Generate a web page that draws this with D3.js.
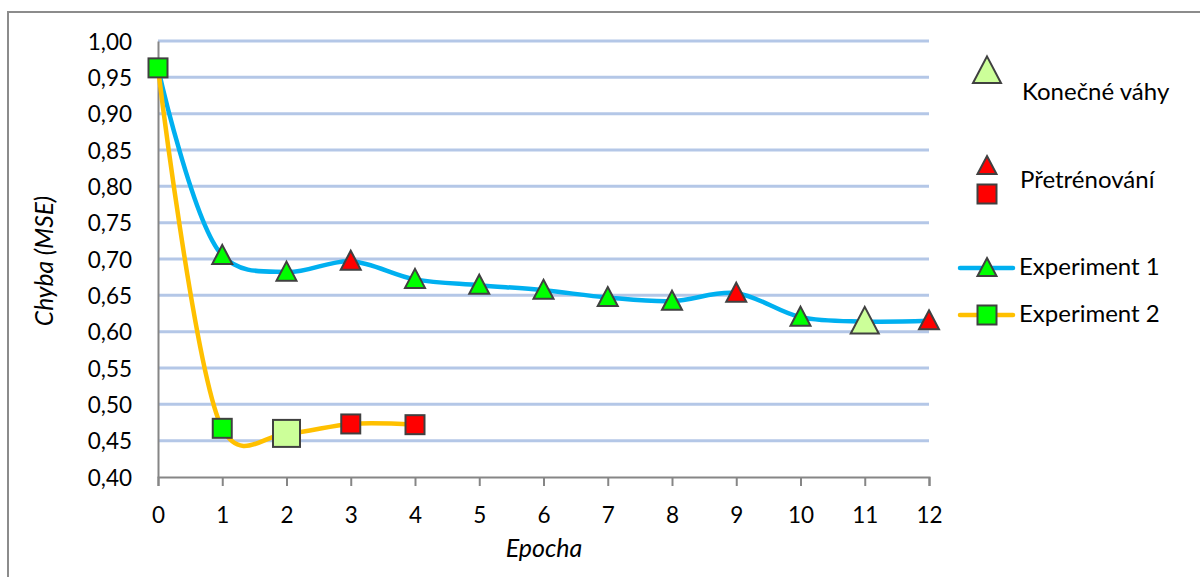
<!DOCTYPE html>
<html><head><meta charset="utf-8">
<script src="https://cdn.jsdelivr.net/npm/d3@7"></script>
<style>body{margin:0;background:#fff}svg{display:block}text{font-family:Lato,"Open Sans",sans-serif;fill:#000}</style>
</head><body>
<svg id="c" width="1200" height="577"></svg>
<script>
const epochs = [0,1,2,3,4,5,6,7,8,9,10,11,12];
const exp1 = [0.963,0.705,0.682,0.697,0.672,0.664,0.657,0.647,0.642,0.653,0.620,0.614,0.615];
const exp2 = [0.963,0.467,0.460,0.473,0.472];
// marker type per point: "n" normal, "f" final weights, "o" overtraining
const exp1Marks = ["n","n","n","o","n","n","n","n","n","o","n","f","o"];
const exp2Marks = ["n","n","f","o","o"];
const yTicks = [0.40,0.45,0.50,0.55,0.60,0.65,0.70,0.75,0.80,0.85,0.90,0.95,1.00];
const xLabel = "Epocha", yLabel = "Chyba (MSE)";
const legendLabels = ["Konečné váhy","Přetrénování","Experiment 1","Experiment 2"];

const svg = d3.select("#c");
const x = d3.scaleLinear().domain([0,12]).range([158,929]);
const y = d3.scaleLinear().domain([0.40,1.00]).range([477,41]);
const fillOf = {n:"#00ff00", f:"#ccff99", o:"#ff0000"};
const stroke = "#404040";

// outer border
svg.append("rect").attr("x",8).attr("y",12).attr("width",1200).attr("height",600)
  .attr("fill","none").attr("stroke","#8c8c8c").attr("stroke-width",2);

// gridlines
svg.append("g").selectAll("line").data(yTicks.filter(d=>d>0.401)).join("line")
  .attr("x1",x(0)).attr("x2",x(12)).attr("y1",d=>y(d)).attr("y2",d=>y(d))
  .attr("stroke","#b4c7e7").attr("stroke-width",3);

// axes
const fmt = d => d3.format(".2f")(d).replace(".",",");
const ya = svg.append("g").attr("transform",`translate(${x(0)},0)`)
  .call(d3.axisLeft(y).tickValues(yTicks).tickFormat(fmt).tickSize(0).tickPadding(26));
ya.select(".domain").attr("stroke","#868686").attr("stroke-width",2);
ya.selectAll("text").attr("font-size",22.5).attr("font-family","Lato").attr("dy","0.36em");
const xa = svg.append("g").attr("transform",`translate(0,${y(0.40)})`)
  .call(d3.axisBottom(x).tickValues(epochs).tickFormat(d3.format("d")).tickSize(9).tickPadding(21));
xa.select(".domain").attr("stroke","#868686").attr("stroke-width",2);
xa.selectAll("line").attr("stroke","#868686").attr("stroke-width",2);
xa.selectAll("text").attr("font-size",22.5).attr("font-family","Lato");

// axis titles
svg.append("text").attr("transform","translate(53,261) rotate(-90)").attr("text-anchor","middle")
  .attr("font-size",24.5).attr("font-style","italic").text(yLabel);
svg.append("text").attr("x",544).attr("y",557).attr("text-anchor","middle")
  .attr("font-size",25).attr("font-style","italic").text(xLabel);

// lines
const line1 = d3.line().x((d,i)=>x(epochs[i])).y(d=>y(d)).curve(d3.curveCatmullRom.alpha(0.4));
const line2 = d3.line().x((d,i)=>x(epochs[i])).y(d=>y(d)).curve(d3.curveCatmullRom.alpha(0.2));
svg.append("path").attr("d",line1(exp1)).attr("fill","none").attr("stroke","#00b0f0").attr("stroke-width",4.5);
svg.append("path").attr("d",line2(exp2)).attr("fill","none").attr("stroke","#ffc000").attr("stroke-width",4.5);

function tri(g,cx,cy,s,fill){
  const h = s*0.95;
  g.append("path").attr("d",`M${cx},${cy-h*0.55}L${cx+s/2},${cy+h*0.45}L${cx-s/2},${cy+h*0.45}Z`)
    .attr("fill",fill).attr("stroke",stroke).attr("stroke-width",2).attr("stroke-linejoin","miter");
}
function sq(g,cx,cy,s,fill){
  g.append("rect").attr("x",cx-s/2).attr("y",cy-s/2).attr("width",s).attr("height",s)
    .attr("fill",fill).attr("stroke",stroke).attr("stroke-width",2);
}
const mk = svg.append("g");
exp1.forEach((v,i)=>{ if(i===0) return; const t=exp1Marks[i]; tri(mk,x(epochs[i]),y(v),t==="f"?28:20,fillOf[t]); });
exp2.forEach((v,i)=>{ const t=exp2Marks[i]; sq(mk,x(epochs[i]),y(v),t==="f"?27:19,fillOf[t]); });

// legend
const lg = svg.append("g");
const fs = 24;
tri(lg,987,71,28,fillOf.f);
lg.append("text").attr("x",1022).attr("y",100).attr("font-size",fs).text(legendLabels[0]);
tri(lg,987,166,19,fillOf.o);
sq(lg,987,194,19,fillOf.o);
lg.append("text").attr("x",1020).attr("y",188).attr("font-size",fs).text(legendLabels[1]);
lg.append("line").attr("x1",960).attr("x2",1013).attr("y1",268).attr("y2",268).attr("stroke","#00b0f0").attr("stroke-width",4.5).attr("stroke-linecap","round");
tri(lg,987,268,19,fillOf.n);
lg.append("text").attr("x",1019).attr("y",275).attr("font-size",fs).text(legendLabels[2]);
lg.append("line").attr("x1",960).attr("x2",1013).attr("y1",315).attr("y2",315).attr("stroke","#ffc000").attr("stroke-width",4.5).attr("stroke-linecap","round");
sq(lg,987,315,19,fillOf.n);
lg.append("text").attr("x",1019).attr("y",322).attr("font-size",fs).text(legendLabels[3]);
</script>
</body></html>
